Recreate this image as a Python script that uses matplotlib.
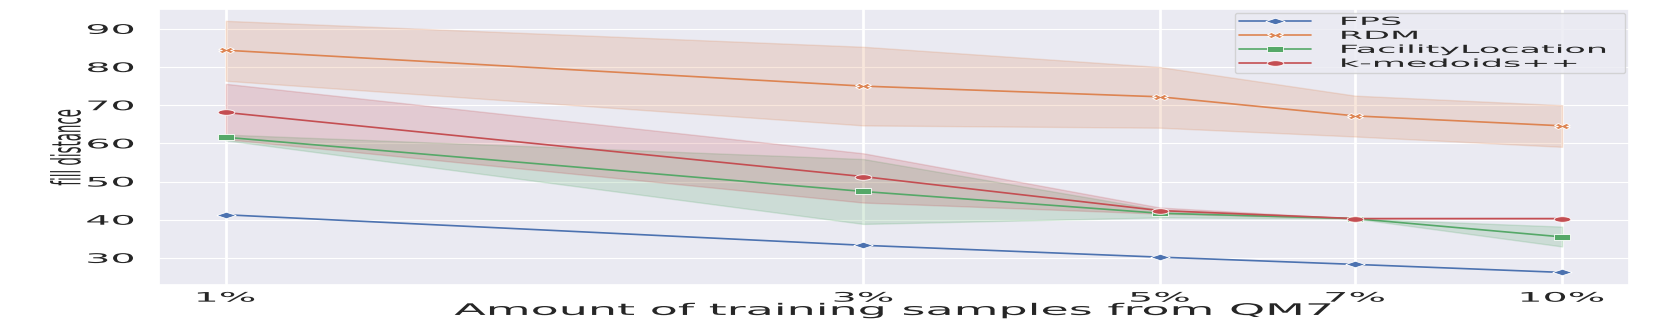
import matplotlib
matplotlib.use("Agg")
import matplotlib.pyplot as plt
import seaborn as sns
from matplotlib.markers import MarkerStyle
from matplotlib.patheffects import AbstractPathEffect
from matplotlib.ticker import NullLocator
from matplotlib.transforms import Affine2D

# --- datos ---
porcentajes = [1, 3, 5, 7, 10]
etiquetas_x = ["1%", "3%", "5%", "7%", "10%"]
ticks_y = [30, 40, 50, 60, 70, 80, 90]

fps_media = [41.3, 33.3, 30.2, 28.3, 26.2]

rdm_media = [84.4, 75.0, 72.2, 67.2, 64.6]
rdm_bajo = [76.4, 64.7, 64.1, 61.8, 59.1]
rdm_alto = [92.1, 85.3, 80.0, 72.5, 70.0]

fl_media = [61.6, 47.4, 41.7, 40.3, 35.5]
fl_bajo = [60.8, 38.9, 40.6, 40.3, 33.0]
fl_alto = [62.3, 55.9, 42.6, 40.3, 38.2]

km_media = [68.1, 51.3, 42.4, 40.3, 40.3]
km_bajo = [61.1, 44.5, 41.6, 40.3, 40.3]
km_alto = [75.6, 57.4, 43.2, 40.3, 40.3]

ESTIRAR = 3.0  # la imagen original esta estirada en horizontal


class Estirar(AbstractPathEffect):
    """Estira el texto en horizontal (en pantalla) alrededor de un ancla."""

    def __init__(self, factor, ancla="center", eje="x"):
        super().__init__()
        self.factor = factor
        self.ancla = ancla
        self.eje = eje

    def draw_path(self, renderer, gc, tpath, affine, rgbFace=None):
        ext = tpath.get_extents()
        if self.eje == "x":
            if self.ancla == "left":
                ref = ext.x0
            elif self.ancla == "right":
                ref = ext.x1
            else:
                ref = (ext.x0 + ext.x1) / 2
            local = Affine2D().translate(-ref, 0).scale(self.factor, 1).translate(ref, 0)
        else:
            ref = (ext.y0 + ext.y1) / 2
            local = Affine2D().translate(0, -ref).scale(1, self.factor).translate(0, ref)
        renderer.draw_path(gc, tpath, local + affine, rgbFace)


def marcador(m):
    return MarkerStyle(m, transform=Affine2D().scale(ESTIRAR, 1))


sns.set_theme(style="darkgrid")
plt.rcParams["font.family"] = ["DejaVu Sans"]

fig = plt.figure(figsize=(16.61, 3.27), dpi=100)
ax = fig.add_axes([0.0957, 0.1284, 0.9807 - 0.0957, 0.9725 - 0.1284])

series = [
    ("FPS", fps_media, None, None, "#4c72b0", "D", 3.3),
    ("RDM", rdm_media, rdm_bajo, rdm_alto, "#dd8452", "X", 3.9),
    ("FacilityLocation", fl_media, fl_bajo, fl_alto, "#55a868", "s", 3.7),
    ("k-medoids++", km_media, km_bajo, km_alto, "#c44e52", "o", 4.0),
]

for nombre, media, bajo, alto, color, m, ms in series:
    ax.plot(porcentajes, media, color=color, lw=1.2, marker=marcador(m),
            ms=ms, mec="white", mew=0.6, label=nombre)
    if bajo is not None:
        ax.fill_between(porcentajes, bajo, alto, color=color, alpha=0.2)

ax.set_xscale("log")
ax.set_xticks(porcentajes)
ax.set_xticklabels(etiquetas_x)
ax.xaxis.set_minor_locator(NullLocator())
ax.set_yticks(ticks_y)
ax.set_ylim(22.9, 95.2)

# rejilla: las verticales se ven mas gruesas por el estiramiento
ax.grid(axis="x", color="white", lw=2.0)
ax.grid(axis="y", color="white", lw=0.8)
ax.tick_params(axis="x", length=0, pad=4.8, labelsize=9.5)
ax.tick_params(axis="y", length=0, pad=18.0, labelsize=9.5)

for t in ax.get_xticklabels():
    t.set_path_effects([Estirar(ESTIRAR, "center")])
for t in ax.get_yticklabels():
    t.set_path_effects([Estirar(ESTIRAR, "right")])

ax.set_xlabel("Amount of training samples from QM7", fontsize=11.5,
              path_effects=[Estirar(2.88, "center")])
ax.xaxis.set_label_coords(0.5, -0.065)

ax.set_ylabel("fill distance", fontsize=9.6, ha="center", va="center",
              path_effects=[Estirar(3.0, eje="y")])
ax.yaxis.set_label_coords((67 - 159) / 1470, 0.5)

ley = ax.legend(loc="upper left", bbox_to_anchor=(0.732, 0.0, 0.2653, 0.9855),
                mode="expand", borderaxespad=0, fontsize=8, handlelength=6.5,
                handletextpad=2.7, labelspacing=0.36, borderpad=0.35,
                frameon=True)
for t in ley.get_texts():
    t.set_path_effects([Estirar(3.15, "left")])

fig.savefig("out.png", dpi=100)
